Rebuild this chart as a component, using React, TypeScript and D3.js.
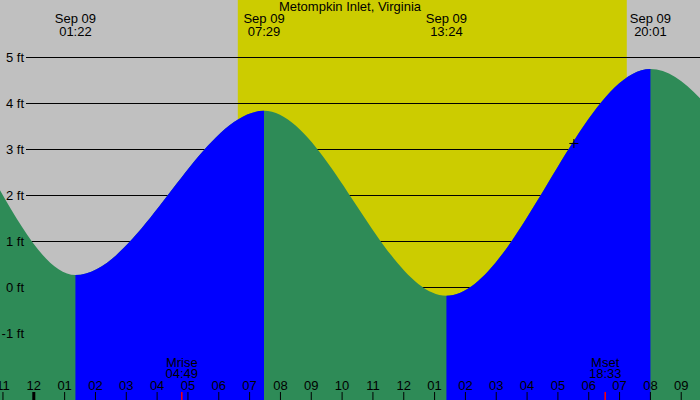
import { useEffect, useRef } from 'react'
import * as d3 from 'd3'

const W = 700, H = 400

// tide extremes (first and last two lie outside the view, they only shape the curve)
const extremeTimes = ['2023-09-08T13:50', '2023-09-08T20:05', '2023-09-09T01:22', '2023-09-09T07:29', '2023-09-09T13:24', '2023-09-09T20:01', '2023-09-10T02:50', '2023-09-10T09:10']
const extremeFeet = [-0.1, 4.4, 0.26, 3.83, -0.19, 4.74, 0.2, 4.0]
const sunTimes = ['2023-09-09T06:38', '2023-09-09T19:15']   // rise, set
const moonNames = ['Mrise', 'Mset']
const moonTimes = ['2023-09-09T04:49', '2023-09-09T18:33']
const feetTicks = [-1, 0, 1, 2, 3, 4, 5]
const markTime = '2023-09-09T17:32'
const markFeet = 3.12
const viewStart = '2023-09-08T22:55:12'
const viewEnd = '2023-09-09T21:37:30'
const title = 'Metompkin Inlet, Virginia'

const FONT = '"Liberation Sans", Arial, sans-serif'

export default function App() {
  const svgRef = useRef<SVGSVGElement>(null)

  useEffect(() => {
    document.body.style.margin = '0'
    const parse = d3.timeParse('%Y-%m-%dT%H:%M')
    const parseS = d3.timeParse('%Y-%m-%dT%H:%M:%S')
    const svg = d3.select(svgRef.current)
    svg.selectAll('*').remove()

    const x = d3.scaleTime().domain([parseS(viewStart)!, parseS(viewEnd)!]).range([0, W])
    const y = d3.scaleLinear().domain([-1, 5]).range([333, 57])

    const pts = extremeTimes.map((t, i) => ({ t: parse(t)!, v: extremeFeet[i] }))

    // night background + daylight band
    svg.append('rect').attr('width', W).attr('height', H).attr('fill', '#c0c0c0')
    const sr = parse(sunTimes[0])!, ss = parse(sunTimes[1])!
    svg.append('rect').attr('x', x(sr)).attr('width', x(ss) - x(sr)).attr('height', H).attr('fill', '#cccc00')

    // grid lines
    feetTicks.forEach(f => {
      svg.append('line').attr('x1', 26).attr('x2', W).attr('y1', y(f) + 0.5).attr('y2', y(f) + 0.5)
        .attr('stroke', '#000').attr('stroke-width', 1)
    })

    // tide area: green everywhere, blue on rising stretches
    const area = d3.area<{ t: Date; v: number }>()
      .x(d => x(d.t)).y0(H).y1(d => y(d.v)).curve(d3.curveMonotoneX)
    const defs = svg.append('defs')
    const clip = defs.append('clipPath').attr('id', 'rising')
    for (let i = 0; i < pts.length - 1; i++) {
      if (pts[i + 1].v > pts[i].v) {
        clip.append('rect').attr('x', x(pts[i].t)).attr('y', 0)
          .attr('width', x(pts[i + 1].t) - x(pts[i].t)).attr('height', H)
      }
    }
    svg.append('path').datum(pts).attr('d', area).attr('fill', '#2e8b57')
    svg.append('path').datum(pts).attr('d', area).attr('fill', '#0000ff').attr('clip-path', 'url(#rising)')

    // feet labels on top of the water
    feetTicks.forEach(f => {
      svg.append('text').attr('x', 24).attr('y', y(f) + 4.7).attr('text-anchor', 'end')
        .attr('font-family', FONT).attr('font-size', '13px').attr('fill', '#000').text(`${f} ft`)
    })

    // title
    svg.append('text').attr('x', W / 2).attr('y', 11).attr('text-anchor', 'middle')
      .attr('font-family', FONT).attr('font-size', '13px').attr('fill', '#000').text(title)

    // extreme labels
    const [d0, d1] = x.domain()
    pts.filter(p => p.t >= d0 && p.t <= d1).forEach(p => {
      const g = svg.append('g').attr('font-family', FONT).attr('font-size', '13px').attr('fill', '#000').attr('text-anchor', 'middle')
      g.append('text').attr('x', x(p.t)).attr('y', 23).text(d3.timeFormat('%b %d')(p.t))
      g.append('text').attr('x', x(p.t)).attr('y', 36).text(d3.timeFormat('%H:%M')(p.t))
    })

    // hour axis along the bottom
    const axis = d3.axisTop(x).ticks(d3.timeHour.every(1))
      .tickSize(8).tickPadding(2)
      .tickFormat(d => { const h = (d as Date).getHours() % 12; return d3.format('02d')(h === 0 ? 12 : h) })
    svg.append('g').attr('transform', `translate(0,${H})`).call(axis)
      .call(a => {
        a.select('.domain').remove()
        a.selectAll('.tick text').attr('font-family', FONT).attr('font-size', '13px').attr('fill', '#000')
        a.selectAll('.tick line').attr('stroke', '#000')
          .attr('stroke-width', d => (d as Date).getHours() === 0 ? 3 : 1)
      })

    // moon rise / set
    moonTimes.forEach((mt, i) => {
      const t = parse(mt)!
      const mx = x(t)
      svg.append('line').attr('x1', mx).attr('x2', mx).attr('y1', 392).attr('y2', H)
        .attr('stroke', '#ff0000').attr('stroke-width', 1.5)
      const g = svg.append('g').attr('font-family', FONT).attr('font-size', '13px').attr('fill', '#000').attr('text-anchor', 'middle')
      g.append('text').attr('x', mx).attr('y', 366.5).text(moonNames[i])
      g.append('text').attr('x', mx).attr('y', 378).text(d3.timeFormat('%H:%M')(t))
    })

    // current-time crosshair
    const cx = x(parse(markTime)!), cy = y(markFeet)
    svg.append('line').attr('x1', cx - 4.5).attr('x2', cx + 4.5).attr('y1', cy).attr('y2', cy).attr('stroke', '#000')
    svg.append('line').attr('x1', cx).attr('x2', cx).attr('y1', cy - 4.5).attr('y2', cy + 4.5).attr('stroke', '#000')
  }, [])

  return <svg ref={svgRef} width={W} height={H} style={{ display: 'block' }} />
}
